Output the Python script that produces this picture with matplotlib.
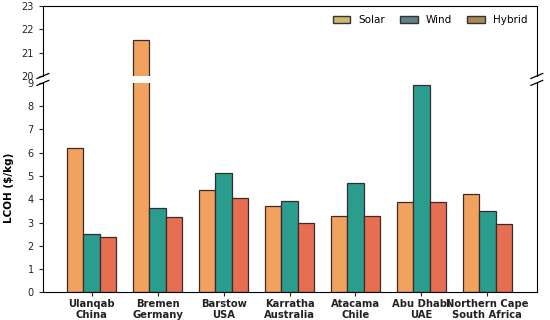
import matplotlib
matplotlib.use("Agg")
import matplotlib.pyplot as plt
import numpy as np
from matplotlib.patches import Patch

sites = ["Ulanqab\nChina", "Bremen\nGermany", "Barstow\nUSA", "Karratha\nAustralia",
         "Atacama\nChile", "Abu Dhabi\nUAE", "Northern Cape\nSouth Africa"]
solar = [6.2, 21.56, 4.4, 3.7, 3.3, 3.88, 4.24]
wind = [2.5, 3.64, 5.12, 3.94, 4.7, 8.92, 3.48]
hybrid = [2.4, 3.26, 4.06, 3.0, 3.27, 3.88, 2.92]
series_names = ["Solar", "Wind", "Hybrid"]
bar_colors = ["#F0A25E", "#2A9D8F", "#E76F51"]
legend_colors = ["#CBB86A", "#5E7F8C", "#A88A55"]

fig = plt.figure(figsize=(5.5, 3.2), dpi=100)
ax_top = fig.add_axes([0.078, 0.7625, 0.898, 0.2185])
ax_bot = fig.add_axes([0.078, 0.086, 0.898, 0.655])

x = np.arange(len(sites))
w = 0.25
for ax in (ax_top, ax_bot):
    for i, (vals, c) in enumerate(zip([solar, wind, hybrid], bar_colors)):
        ax.bar(x + (i - 1) * w, vals, w, color=c, edgecolor="#3a2a2a", linewidth=0.9)
    ax.set_xlim(-0.74, 6.75)
    ax.tick_params(labelsize=7, colors="#222222", length=3)

ax_top.set_ylim(20, 23)
ax_top.set_yticks([20, 21, 22, 23])
ax_bot.set_ylim(0, 9)
ax_bot.set_yticks(range(0, 10))

ax_top.spines["bottom"].set_visible(False)
ax_top.tick_params(axis="x", bottom=False, labelbottom=False)
ax_bot.spines["top"].set_visible(False)
ax_bot.set_xticks(x)
ax_bot.set_xticklabels(sites, fontsize=7.2, fontweight="bold", linespacing=1.05)
ax_bot.tick_params(axis="x", pad=2)
ax_bot.set_ylabel("LCOH ($/kg)", fontsize=7.5, fontweight="bold", labelpad=10)

# break marks
d = 0.012
kw = dict(color="k", clip_on=False, linewidth=0.9)
ax_top.plot((-d, +d), (-d * 3, +d * 3), transform=ax_top.transAxes, **kw)
ax_top.plot((1 - d, 1 + d), (-d * 3, +d * 3), transform=ax_top.transAxes, **kw)
ax_bot.plot((-d, +d), (1 - d, 1 + d), transform=ax_bot.transAxes, **kw)
ax_bot.plot((1 - d, 1 + d), (1 - d, 1 + d), transform=ax_bot.transAxes, **kw)

handles = [Patch(facecolor=c, edgecolor="#333333", label=n) for c, n in zip(legend_colors, series_names)]
ax_top.legend(handles=handles, loc="upper right", ncol=3, frameon=False, fontsize=7.5,
              handlelength=1.7, handleheight=0.6, columnspacing=1.4, handletextpad=0.8)

fig.savefig("out.png", dpi=100)
